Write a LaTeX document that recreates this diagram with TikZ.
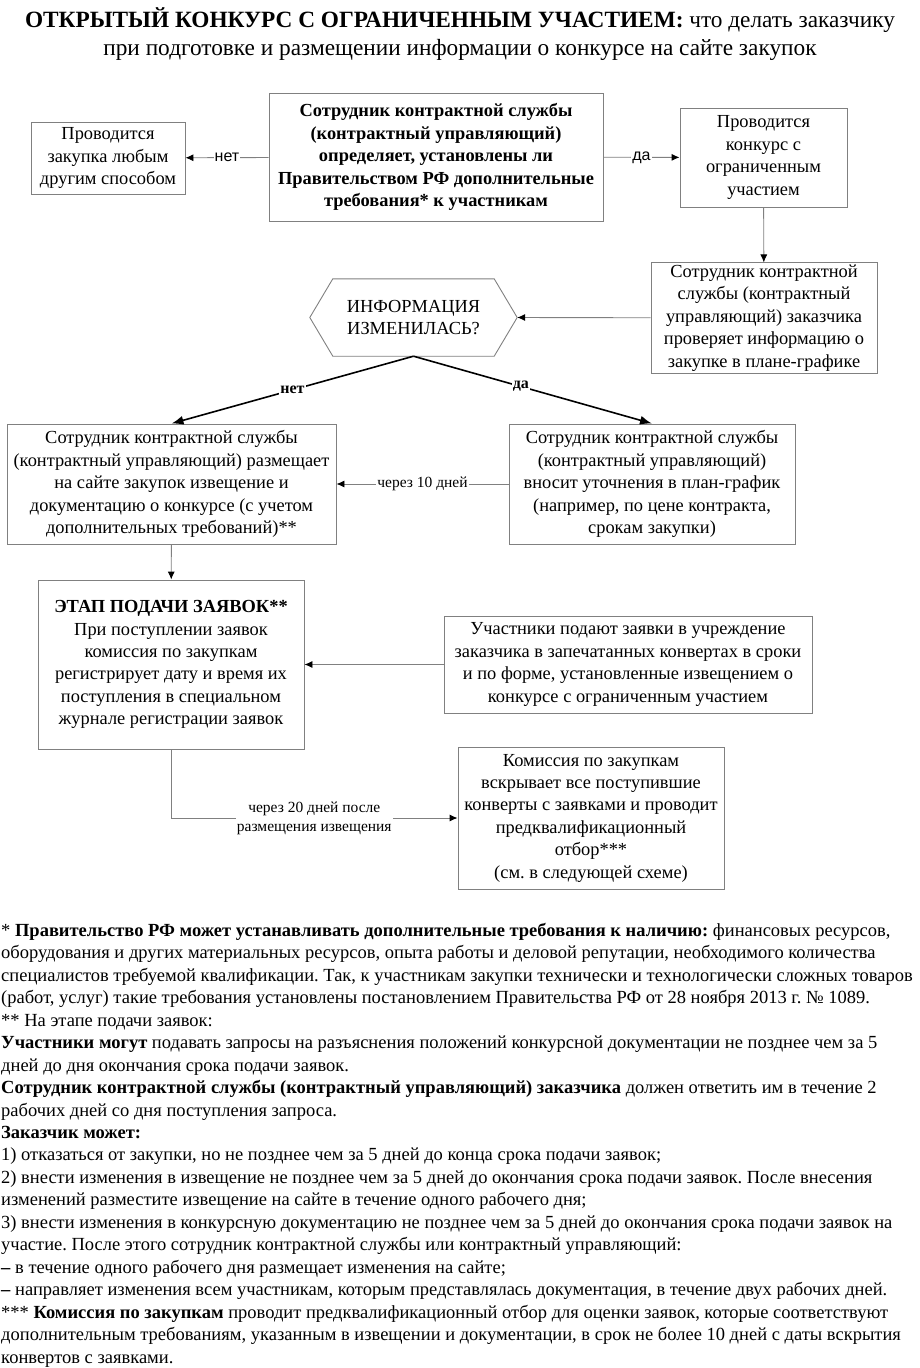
\documentclass[tikz,border=0pt]{standalone}
\usepackage{fontspec}
\setmainfont{Liberation Serif}
\newfontfamily\labelfont{Liberation Sans}
\usetikzlibrary{arrows.meta,positioning}
\definecolor{linegray}{RGB}{128,128,128}
\frenchspacing

\begin{document}
\begin{tikzpicture}[x=1pt, y=-1pt,
  box/.style={draw=linegray, line width=0.9pt, align=center, inner sep=2pt, font=\fontsize{18.4}{22.4}\selectfont},
  grayarrow/.style={draw=linegray, line width=0.9pt, -{Latex[color=black, length=8pt, width=7pt]}},
  blackarrow/.style={draw=black, line width=1.6pt, -{Latex[length=12pt, width=9pt]}},
  sanslabel/.style={fill=white, inner sep=1pt, font=\labelfont\fontsize{16}{18}\selectfont},
  daylabel/.style={fill=white, inner sep=1pt, align=center, font=\fontsize{15.5}{19}\selectfont},
  hexlabel/.style={fill=white, inner sep=1pt, font=\bfseries\fontsize{16}{19}\selectfont}]
\useasboundingbox (0,0) rectangle (920,1368);

\node[align=center, inner sep=0, font=\fontsize{23.3}{28}\selectfont] (title) at (460,34)
  {\textbf{ОТКРЫТЫЙ КОНКУРС С ОГРАНИЧЕННЫМ УЧАСТИЕМ:} что делать заказчику\\при подготовке и размещении информации о конкурсе на сайте закупок};

\node[box, minimum width=154, minimum height=72] (other) at (108,158) {Проводится\\закупка любым\\другим способом};
\node[box, minimum width=334, minimum height=128, font=\bfseries\fontsize{18.4}{22.4}\selectfont] (check) at (436,157)
  {Сотрудник контрактной службы\\(контрактный управляющий)\\определяет, установлены ли\\Правительством РФ дополнительные\\требования* к участникам};
\node[box, minimum width=167, minimum height=99] (contest) at (763.5,157.5) {Проводится\\конкурс с\\ограниченным\\участием};
\node[box, minimum width=226, minimum height=110] (plan) at (764,318) {Сотрудник контрактной\\службы (контрактный\\управляющий) заказчика\\проверяет информацию о\\закупке в плане-графике};

\node[minimum width=207, minimum height=77, inner sep=0, align=center, font=\fontsize{18.4}{22.4}\selectfont] (info) at (413.5,317.5) {ИНФОРМАЦИЯ\\ИЗМЕНИЛАСЬ?};
\draw[linegray, line width=0.9pt] (info.west) -- ([xshift=23pt]info.north west) -- ([xshift=-23pt]info.north east)
  -- (info.east) -- ([xshift=-23pt]info.south east) -- ([xshift=23pt]info.south west) -- cycle;

\node[box, minimum width=329, minimum height=120] (publish) at (171.5,484)
  {Сотрудник контрактной службы\\(контрактный управляющий) размещает\\на сайте закупок извещение и\\документацию о конкурсе (с учетом\\дополнительных требований)**};
\node[box, minimum width=286, minimum height=120] (update) at (652,484)
  {Сотрудник контрактной службы\\(контрактный управляющий)\\вносит уточнения в план-график\\(например, по цене контракта,\\срокам закупки)};
\node[box, minimum width=266, minimum height=169] (stage) at (171,664.5)
  {\textbf{ЭТАП ПОДАЧИ ЗАЯВОК**}\\При поступлении заявок\\комиссия по закупкам\\регистрирует дату и время их\\поступления в специальном\\журнале регистрации заявок};
\node[box, minimum width=368, minimum height=97] (bids) at (628,664.5)
  {Участники подают заявки в учреждение\\заказчика в запечатанных конвертах в сроки\\и по форме, установленные извещением о\\конкурсе с ограниченным участием};
\node[box, minimum width=266, minimum height=142] (open) at (591,818)
  {Комиссия по закупкам\\вскрывает все поступившие\\конверты с заявками и проводит\\предквалификационный\\отбор***\\(см. в следующей схеме)};

% connectors
\draw[grayarrow] (check) -- node[sanslabel] {нет} (other);
\draw[grayarrow] (check) -- node[sanslabel] {да} (contest);
\draw[grayarrow] (contest) -- (plan);
\draw[grayarrow] (plan) -- (info.east);
\draw[blackarrow] (info.south) -- node[hexlabel, pos=0.5] {нет} (publish.north);
\draw[blackarrow] (info.south) -- node[hexlabel, pos=0.45] {да} (update.north);
\draw[grayarrow] (update) -- node[daylabel] {через 10 дней} (publish);
\draw[grayarrow] (publish) -- (stage);
\draw[grayarrow] (bids.west) -- (bids.west -| stage.east);
\draw[grayarrow] (stage.south) |- node[daylabel, pos=0.75] {через 20 дней после\\размещения извещения} (open.west);

\node[anchor=north west, inner sep=0, align=left, font=\fontsize{18.5}{22.45}\selectfont] (notes) at (1,923)
  {* \textbf{Правительство РФ может устанавливать дополнительные требования к наличию:} финансовых ресурсов,\\
   оборудования и других материальных ресурсов, опыта работы и деловой репутации, необходимого количества\\
   специалистов требуемой квалификации. Так, к участникам закупки технически и технологически сложных товаров\\
   (работ, услуг) такие требования установлены постановлением Правительства РФ от 28 ноября 2013 г. № 1089.\\
   ** На этапе подачи заявок:\\
   \textbf{Участники могут} подавать запросы на разъяснения положений конкурсной документации не позднее чем за 5\\
   дней до дня окончания срока подачи заявок.\\
   \textbf{Сотрудник контрактной службы (контрактный управляющий) заказчика} должен ответить им в течение 2\\
   рабочих дней со дня поступления запроса.\\
   \textbf{Заказчик может:}\\
   1) отказаться от закупки, но не позднее чем за 5 дней до конца срока подачи заявок;\\
   2) внести изменения в извещение не позднее чем за 5 дней до окончания срока подачи заявок. После внесения\\
   изменений разместите извещение на сайте в течение одного рабочего дня;\\
   3) внести изменения в конкурсную документацию не позднее чем за 5 дней до окончания срока подачи заявок на\\
   участие. После этого сотрудник контрактной службы или контрактный управляющий:\\
   \textbf{–} в течение одного рабочего дня размещает изменения на сайте;\\
   \textbf{–} направляет изменения всем участникам, которым представлялась документация, в течение двух рабочих дней.\\
   *** \textbf{Комиссия по закупкам} проводит предквалификационный отбор для оценки заявок, которые соответствуют\\
   дополнительным требованиям, указанным в извещении и документации, в срок не более 10 дней с даты вскрытия\\
   конвертов с заявками.};
\end{tikzpicture}
\end{document}
